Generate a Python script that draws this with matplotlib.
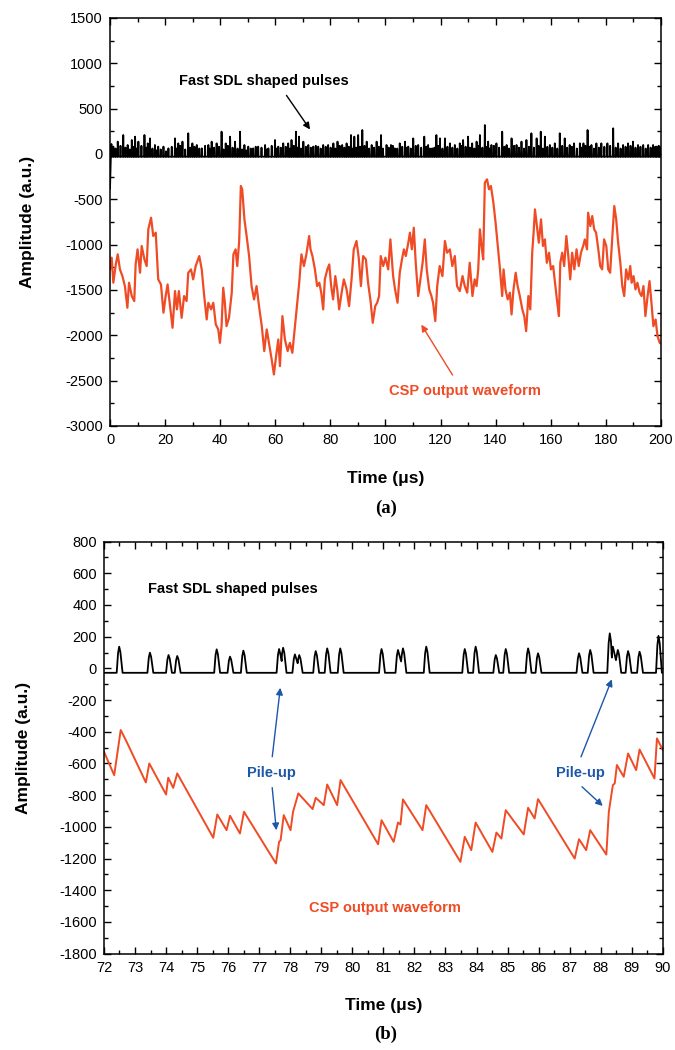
import numpy as np
import matplotlib
matplotlib.use("Agg")
import matplotlib.pyplot as plt
from matplotlib.ticker import MultipleLocator

plt.rcParams['font.family'] = ['Liberation Sans', 'DejaVu Sans']
plt.rcParams['axes.unicode_minus'] = False
plt.rcParams['xtick.direction'] = 'in'
plt.rcParams['ytick.direction'] = 'in'
plt.rcParams['xtick.top'] = True
plt.rcParams['ytick.right'] = True

RED = '#ef4b25'
BLUE = '#1d57a8'

# ---- panel (a): 0-200 us ----
csp_a_t = [0.0, 0.6, 1.2, 2.1, 2.8, 3.6, 4.5, 5.4, 6.3, 6.9, 7.9, 8.8, 9.3, 10.0, 10.9, 11.5,
           12.5, 13.3, 13.9, 14.9, 15.7, 16.6, 17.5, 18.5, 19.4, 20.2, 20.9, 21.8, 22.7, 23.6,
           24.3, 25.0, 26.0, 26.9, 27.8, 28.4, 29.4, 30.2, 31.1, 32.4, 33.3, 34.2, 35.1, 35.7,
           36.7, 37.5, 38.4, 39.3, 39.9, 40.5, 41.1, 41.7, 42.3, 43.2, 44.2, 44.8, 45.6, 46.2,
           46.9, 47.5, 48.0, 48.8, 49.6, 50.5, 51.4, 52.3, 53.2, 54.1, 55.1, 56.0, 56.9, 57.7,
           58.7, 59.5, 60.3, 61.1, 61.7, 62.6, 63.5, 64.5, 65.3, 66.2, 67.5, 68.0, 68.7, 69.5,
           70.4, 71.3, 72.3, 72.8, 73.5, 74.4, 75.2, 76.0, 76.7, 77.4, 78.0, 78.9, 79.6, 80.3,
           81.0, 81.8, 82.5, 83.2, 84.1, 84.9, 85.9, 86.8, 87.7, 88.5, 89.5, 90.3, 91.1, 91.9,
           92.9, 93.7, 94.6, 95.4, 96.3, 97.0, 97.7, 98.3, 99.2, 100.0, 101.0, 101.8, 102.8,
           103.5, 104.4, 105.2, 106.0, 106.7, 107.4, 108.3, 108.9, 109.6, 110.3, 111.0, 111.9,
           112.7, 113.5, 114.3, 115.0, 115.9, 116.7, 117.3, 118.1, 118.8, 119.7, 120.7, 121.6,
           122.4, 123.4, 124.3, 125.2, 126.0, 127.0, 128.0, 128.8, 129.7, 130.6, 131.6, 132.4,
           133.1, 133.7, 134.3, 134.9, 135.5, 136.1, 136.9, 137.6, 138.3, 139.2, 140.0, 140.7,
           141.6, 142.4, 142.9, 143.6, 144.4, 145.2, 145.8, 146.5, 147.3, 148.0, 148.8, 149.7,
           150.4, 151.1, 151.9, 152.6, 153.3, 153.8, 154.3, 155.0, 155.7, 156.5, 157.2, 157.9,
           158.6, 159.4, 160.1, 160.9, 161.7, 162.4, 163.0, 163.5, 164.2, 164.9, 165.7, 166.4,
           167.1, 167.8, 168.6, 169.4, 170.2, 171.0, 171.8, 172.4, 173.2, 173.6, 174.4, 175.1,
           175.8, 176.5, 177.3, 178.0, 178.7, 179.4, 180.2, 180.9, 181.6, 182.4, 183.1, 183.8,
           184.5, 185.3, 186.0, 186.7, 187.4, 188.2, 188.9, 189.4, 190.1, 190.8, 191.5, 192.3,
           193.0, 193.7, 194.4, 195.2, 195.9, 196.6, 197.3, 198.1, 198.8, 199.6, 200.0]
csp_a_v = [-1273, -1144, -1420, -1218, -1107, -1273, -1347, -1457, -1696, -1420, -1567, -1623,
           -1218, -1052, -1310, -1015, -1163, -1236, -831, -703, -905, -868, -1383, -1439,
           -1751, -1567, -1439, -1678, -1917, -1512, -1714, -1512, -1807, -1567, -1623, -1310,
           -1273, -1383, -1236, -1126, -1273, -1567, -1825, -1641, -1714, -1641, -1880, -1935,
           -2083, -1899, -1475, -1641, -1899, -1807, -1530, -1107, -1052, -1236, -960, -353,
           -390, -721, -905, -1126, -1457, -1604, -1457, -1678, -1899, -2174, -1935, -2083,
           -2267, -2432, -2230, -2046, -2340, -1788, -2046, -2174, -2083, -2193, -1788, -1641,
           -1420, -1107, -1236, -1107, -905, -1052, -1126, -1273, -1457, -1420, -1530, -1714,
           -1383, -1273, -1218, -1457, -1604, -1347, -1494, -1714, -1530, -1383, -1494, -1678,
           -1383, -1052, -960, -1144, -1457, -1126, -1163, -1420, -1623, -1862, -1678, -1641,
           -1567, -1126, -1236, -1144, -1273, -942, -1347, -1494, -1641, -1310, -1163, -1052,
           -1126, -979, -868, -1052, -813, -1200, -1567, -1383, -1200, -942, -1273, -1494,
           -1567, -1641, -1843, -1457, -1236, -1347, -960, -1089, -1052, -1236, -1126, -1457,
           -1512, -1347, -1457, -1530, -1200, -1567, -1383, -1457, -1273, -831, -1015, -1163,
           -316, -280, -390, -353, -537, -758, -979, -1273, -1567, -1273, -1494, -1604, -1530,
           -1770, -1494, -1310, -1457, -1567, -1714, -1788, -1954, -1567, -1714, -1089, -868,
           -611, -795, -979, -721, -1015, -942, -1200, -1089, -1273, -1236, -1457, -1641,
           -1788, -1200, -1089, -1236, -905, -1126, -1383, -1089, -1273, -1052, -1236, -1089,
           -1015, -942, -1052, -648, -795, -685, -831, -868, -1052, -1236, -1273, -942, -1015,
           -1273, -1310, -905, -574, -721, -979, -1200, -1457, -1567, -1273, -1383, -1236,
           -1420, -1347, -1494, -1420, -1530, -1567, -1457, -1788, -1567, -1402, -1641, -1899,
           -1825, -2009, -2083, -2090]

sdl_a_t = [1.2, 2.8, 4.8, 6.4, 7.9, 9.1, 10.3, 12.5, 13.7, 14.5, 16.3, 17.5, 19.4, 21.2, 23.6,
           24.8, 26.3, 28.4, 29.9, 31.5, 33.3, 35.7, 36.9, 38.7, 40.5, 42.0, 43.6, 45.4, 47.2,
           48.8, 50.2, 52.0, 53.8, 56.3, 57.5, 59.9, 61.1, 62.9, 64.7, 65.9, 67.5, 68.6, 70.2,
           72.0, 73.8, 75.6, 77.4, 79.2, 81.1, 82.6, 84.3, 85.9, 87.5, 88.7, 90.1, 91.6, 93.2,
           95.0, 96.8, 98.4, 100.4, 102.0, 103.4, 105.2, 107.1, 108.3, 110.1, 111.9, 114.1,
           115.5, 117.0, 118.5, 119.8, 121.6, 123.4, 125.2, 127.0, 128.2, 130.0, 131.5, 133.1,
           134.3, 136.1, 137.3, 138.5, 140.3, 142.4, 144.0, 145.8, 147.6, 149.4, 151.2, 153.0,
           154.9, 156.4, 157.9, 159.7, 161.5, 163.3, 165.1, 166.9, 168.5, 170.6, 171.9, 173.4,
           174.8, 176.6, 178.4, 180.6, 182.7, 184.5, 186.3, 188.1, 189.9, 191.7, 193.6, 195.4,
           197.2, 198.4, 199.6]
sdl_a_h = [81, 136, 209, 99, 154, 191, 136, 209, 117, 172, 99, 81, 81, 62, 172, 117, 136, 228,
           117, 99, 62, 99, 136, 117, 246, 117, 191, 136, 246, 99, 81, 62, 81, 99, 62, 154, 81,
           117, 117, 154, 246, 191, 136, 99, 81, 81, 99, 99, 117, 136, 99, 117, 209, 191, 209,
           264, 136, 99, 136, 209, 99, 99, 62, 117, 136, 81, 172, 99, 191, 99, 62, 209, 172,
           172, 117, 99, 117, 154, 191, 117, 136, 209, 319, 136, 99, 117, 246, 99, 172, 99, 136,
           154, 228, 172, 246, 191, 99, 117, 228, 172, 99, 117, 117, 117, 264, 99, 117, 117,
           117, 283, 117, 99, 117, 136, 99, 99, 99, 99, 81, 81]
sdl_a_t2 = [0.5, 2.0, 3.8, 5.6, 7.2, 8.5, 9.7, 11.4, 13.1, 15.4, 16.9, 18.4, 20.3, 22.4, 24.2,
            25.5, 27.3, 29.1, 30.7, 32.4, 34.5, 36.3, 37.8, 39.6, 41.2, 42.8, 44.5, 46.3, 48.0,
            49.5, 51.1, 52.9, 55.0, 56.9, 58.7, 60.5, 62.0, 63.8, 65.3, 66.7, 68.0, 69.4, 71.1,
            72.9, 74.7, 76.5, 78.3, 80.1, 81.8, 83.4, 85.1, 86.7, 88.1, 89.4, 90.8, 92.4, 94.1,
            95.9, 97.6, 99.1, 101.2, 102.7, 104.3, 106.1, 107.7, 109.2, 111.0, 113.0, 114.8,
            116.2, 117.8, 119.1, 120.7, 122.5, 124.3, 126.1, 127.6, 129.1, 130.7, 132.3, 133.7,
            135.2, 136.7, 137.9, 139.4, 141.3, 143.2, 144.9, 146.7, 148.5, 150.3, 152.1, 153.9,
            155.6, 157.1, 158.8, 160.6, 162.4, 164.2, 166.0, 167.7, 169.5, 171.2, 172.6, 174.1,
            175.7, 177.5, 179.5, 181.6, 183.6, 185.4, 187.2, 189.0, 190.8, 192.6, 194.5, 196.3,
            198.0, 199.2]
sdl_a_h2 = [110, 60, 90, 70, 50, 80, 60, 90, 70, 60, 40, 50, 30, 80, 60, 90, 50, 70, 80, 60,
            90, 60, 70, 80, 50, 90, 70, 60, 50, 40, 60, 80, 70, 50, 90, 60, 70, 80, 60, 90, 70,
            60, 80, 70, 90, 60, 80, 70, 60, 90, 70, 80, 60, 70, 80, 90, 60, 70, 80, 60, 70, 90,
            60, 80, 70, 60, 90, 70, 80, 60, 70, 90, 60, 80, 70, 60, 90, 80, 70, 60, 90, 70, 80,
            60, 90, 70, 80, 60, 90, 70, 60, 80, 70, 90, 60, 80, 70, 60, 90, 70, 80, 60, 70, 90,
            80, 60, 70, 80, 90, 70, 60, 80, 90, 70, 80, 60, 70, 80, 90]

# ---- panel (b): 72-90 us ----
csp_b_t = [72.0, 72.33, 72.54, 72.73, 73.35, 73.46, 74.00, 74.07, 74.23, 74.36, 75.52, 75.65,
           75.95, 76.06, 76.38, 76.51, 77.54, 77.64, 77.69, 77.79, 78.01, 78.09, 78.26, 78.72,
           78.82, 79.08, 79.19, 79.51, 79.62, 80.83, 80.94, 81.33, 81.47, 81.55, 81.63, 82.26,
           82.38, 83.48, 83.62, 83.83, 83.97, 84.51, 84.64, 84.80, 84.94, 85.52, 85.66, 85.87,
           85.98, 87.16, 87.30, 87.53, 87.66, 88.18, 88.26, 88.39, 88.45, 88.52, 88.74, 88.88,
           89.14, 89.25, 89.73, 89.81, 90.0]
csp_b_v = [-526, -674, -389, -463, -720, -600, -796, -690, -754, -663, -1069, -922, -1021,
           -930, -1042, -905, -1231, -1095, -1084, -926, -1021, -905, -789, -888, -817, -863,
           -733, -863, -705, -1110, -958, -1095, -973, -985, -827, -1021, -863, -1221, -1063,
           -1147, -973, -1158, -1036, -1074, -895, -1048, -880, -947, -825, -1200, -1078, -1147,
           -1021, -1175, -905, -737, -726, -610, -684, -537, -642, -512, -695, -442, -516]

sdl_b_t = [72.49, 73.48, 74.08, 74.36, 75.63, 76.06, 76.49, 77.64, 77.77, 78.15, 78.29, 78.82,
           79.19, 79.61, 80.94, 81.47, 81.63, 82.38, 83.62, 83.97, 84.62, 84.94, 85.66, 85.98,
           87.30, 87.66, 88.29, 88.39, 88.55, 88.88, 89.25, 89.86]
sdl_b_h = [137, 99, 84, 78, 120, 74, 112, 122, 130, 88, 84, 109, 126, 126, 122, 116, 126, 137,
           122, 137, 84, 122, 126, 95, 95, 116, 221, 137, 116, 109, 105, 205]
sdl_base = -28


def pulse_trace(t0, t1, times, heights, base, w0, w1, start=None):
    # polyline through listed pulse peaks, rounded shoulders, back to baseline
    xs, ys = [t0], [base if start is None else start]
    prev_end = t0
    for t, h in zip(times, heights):
        if t - w0 <= prev_end:
            xs.pop()
            ys.pop()
            xs.append((xs[-1] + t) / 2)
            ys.append(min(ys[-1], h) * 0.5)
        else:
            xs.append(t - w0)
            ys.append(base)
        xs += [t - w0 * 0.45, t, t + w1 * 0.35]
        ys += [base + (h - base) * 0.75, h, base + (h - base) * 0.8]
        prev_end = t + w1
        xs.append(prev_end)
        ys.append(base)
    xs.append(t1)
    ys.append(base)
    return xs, ys


fig = plt.figure(figsize=(6.75, 10.5), dpi=100)

# ---------- (a) ----------
ax1 = fig.add_axes([0.163, 0.5943, 0.816, 0.3886])
spikes = sorted(zip(sdl_a_t + sdl_a_t2, sdl_a_h + sdl_a_h2))
st, sh = zip(*spikes)
bx, by = pulse_trace(0, 200, st, sh, -30, 0.12, 0.12, start=-380)
bx.insert(1, 0.3)
by.insert(1, -30)
ax1.plot(bx, by, color='black', lw=1.3)
ax1.plot(csp_a_t, csp_a_v, color=RED, lw=1.6)
ax1.set_xlim(0, 200)
ax1.set_ylim(-3000, 1500)
ax1.xaxis.set_major_locator(MultipleLocator(20))
ax1.xaxis.set_minor_locator(MultipleLocator(10))
ax1.yaxis.set_major_locator(MultipleLocator(500))
ax1.yaxis.set_minor_locator(MultipleLocator(250))
ax1.text(56, 810, 'Fast SDL shaped pulses', ha='center', va='center',
         fontsize=10.5, fontweight='bold')
ax1.annotate('', xy=(73.2, 245), xytext=(63.5, 671),
             arrowprops=dict(arrowstyle='-|>', color='black', lw=1.0, mutation_scale=10))
ax1.text(129, -2610, 'CSP output waveform', ha='center', va='center',
         fontsize=10.5, fontweight='bold', color=RED)
ax1.annotate('', xy=(112.5, -1856), xytext=(124.9, -2464),
             arrowprops=dict(arrowstyle='-|>', color=RED, lw=1.0, mutation_scale=10))
ax1.set_xlabel('Time (μs)', fontsize=12.5, fontweight='bold', labelpad=17)
ax1.set_ylabel('Amplitude (a.u.)', fontsize=12.5, fontweight='bold', labelpad=22)

# ---------- (b) ----------
ax2 = fig.add_axes([0.154, 0.0918, 0.828, 0.3924])
bx2, by2 = pulse_trace(72, 90, sdl_b_t, sdl_b_h, sdl_base, 0.08, 0.11)
ax2.plot(bx2, by2, color='black', lw=1.3)
ax2.plot(csp_b_t, csp_b_v, color=RED, lw=1.4)
ax2.set_xlim(72, 90)
ax2.set_ylim(-1800, 800)
ax2.xaxis.set_major_locator(MultipleLocator(1))
ax2.xaxis.set_minor_locator(MultipleLocator(0.5))
ax2.yaxis.set_major_locator(MultipleLocator(200))
ax2.yaxis.set_minor_locator(MultipleLocator(100))
ax2.text(76.15, 500, 'Fast SDL shaped pulses', ha='center', va='center',
         fontsize=10.5, fontweight='bold')
ax2.text(81.05, -1512, 'CSP output waveform', ha='center', va='center',
         fontsize=10.5, fontweight='bold', color=RED)
for lx, up_head, dn_head in [(77.41, (77.69, -105), (77.56, -1039)),
                             (87.33, (88.39, -53), (88.13, -880))]:
    ax2.text(lx, -661, 'Pile-up', ha='center', va='center', fontsize=10.5,
             fontweight='bold', color=BLUE)
    ax2.annotate('', xy=up_head, xytext=(lx, -575),
                 arrowprops=dict(arrowstyle='-|>', color=BLUE, lw=1.0, mutation_scale=10))
    ax2.annotate('', xy=dn_head, xytext=(lx, -735),
                 arrowprops=dict(arrowstyle='-|>', color=BLUE, lw=1.0, mutation_scale=10))
ax2.set_xlabel('Time (μs)', fontsize=12.5, fontweight='bold', labelpad=17)
ax2.set_ylabel('Amplitude (a.u.)', fontsize=12.5, fontweight='bold', labelpad=20)

for ax in (ax1, ax2):
    ax.tick_params(which='major', length=5, width=1, labelsize=10.5, pad=5)
    ax.tick_params(which='minor', length=3, width=1)
    for s in ax.spines.values():
        s.set_linewidth(1.1)

fig.text(0.5716, 1 - 508 / 1050, '(a)', ha='center', va='center', fontsize=13.5,
         fontweight='bold', family='Liberation Serif')
fig.text(0.5716, 1 - 1034 / 1050, '(b)', ha='center', va='center', fontsize=13.5,
         fontweight='bold', family='Liberation Serif')

fig.savefig('out.png', dpi=100)
